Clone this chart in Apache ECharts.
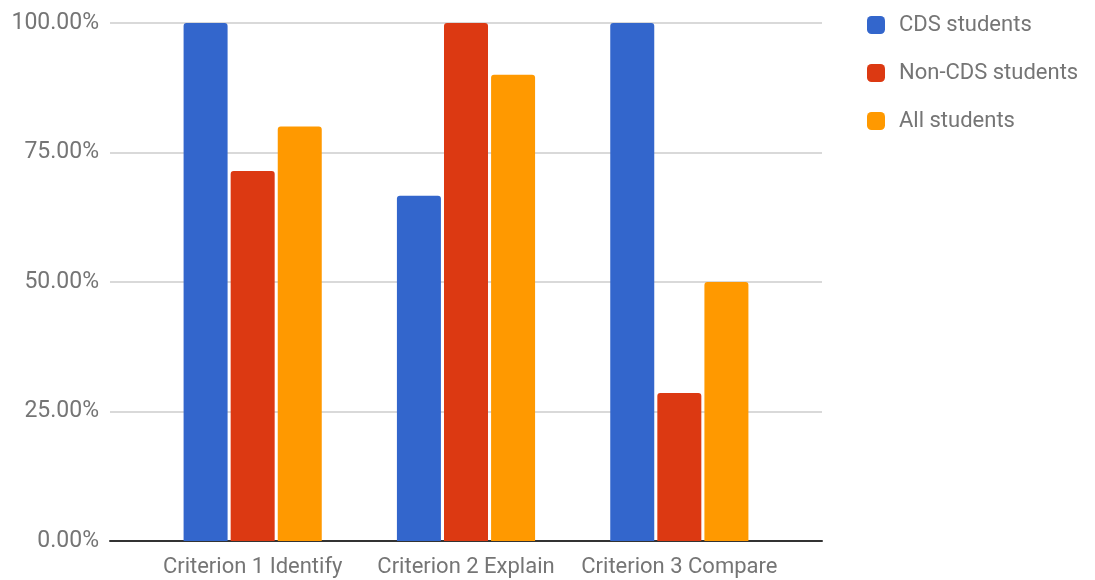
<!DOCTYPE html>
<html><head><meta charset="utf-8">
<script src="https://cdn.jsdelivr.net/npm/echarts@6/dist/echarts.min.js"></script>
<style>html,body{margin:0;padding:0;background:#fff}#c{width:1095px;height:580px}</style>
</head><body><div id="c"></div>
<script>
const categories = ['Criterion 1 Identify', 'Criterion 2 Explain', 'Criterion 3 Compare'];
const seriesNames = ['CDS students', 'Non-CDS students', 'All students'];
const cds = [100, 66.67, 100];
const nonCds = [71.43, 100, 28.57];
const allStudents = [80, 90, 50];
const colors = ['#3366cc', '#dc3912', '#ff9900'];
const values = [cds, nonCds, allStudents];

const labelColor = '#757575';
const chart = echarts.init(document.getElementById('c'));
chart.setOption({
  animation: false,
  textStyle: { fontFamily: 'Roboto' },
  grid: [
    { left: 110, right: 273, top: 23, bottom: 39 },
    { left: 146, right: 309, top: 23, bottom: 39 }
  ],
  legend: {
    orient: 'vertical', left: 862, top: 9, itemWidth: 18, itemHeight: 18, itemGap: 26,
    icon: 'roundRect',
    textStyle: { color: labelColor, fontSize: 22, fontFamily: 'Roboto', padding: [0, 0, 0, 9] },
    data: seriesNames
  },
  xAxis: [
    {
      gridIndex: 0, type: 'category', data: [''],
      axisLine: { lineStyle: { color: '#333', width: 2 } },
      axisTick: { show: false }, axisLabel: { show: false }
    },
    {
      gridIndex: 1, type: 'category', data: categories,
      axisLine: { show: false },
      axisTick: { show: false },
      axisLabel: { color: labelColor, fontSize: 22, margin: 15, interval: 0 }
    }
  ],
  yAxis: [
    {
      gridIndex: 0, type: 'value', min: 0, max: 100, interval: 25,
      axisLabel: { color: labelColor, fontSize: 23, margin: 11, formatter: v => v.toFixed(2) + '%' },
      axisLine: { show: false }, axisTick: { show: false },
      splitLine: { lineStyle: { color: '#cccccc', width: 1.5 } }
    },
    {
      gridIndex: 1, type: 'value', min: 0, max: 100, interval: 25, show: false,
      splitLine: { show: false }
    }
  ],
  series: seriesNames.map((n, i) => ({
    name: n, type: 'bar', xAxisIndex: 1, yAxisIndex: 1, data: values[i], barWidth: 44, barGap: '7%',
    itemStyle: { color: colors[i], borderRadius: [3, 3, 0, 0] }
  }))
});
</script></body></html>
